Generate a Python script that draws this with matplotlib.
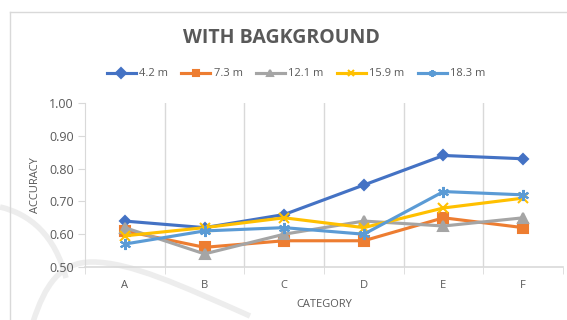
import numpy as np
import matplotlib.pyplot as plt
from matplotlib.path import Path
from matplotlib.patches import PathPatch

# data
categories = ['A', 'B', 'C', 'D', 'E', 'F']
series_names = ['4.2 m', '7.3 m', '12.1 m', '15.9 m', '18.3 m']
acc_42 = [0.64, 0.62, 0.66, 0.75, 0.84, 0.83]
acc_73 = [0.61, 0.56, 0.58, 0.58, 0.65, 0.62]
acc_121 = [0.62, 0.54, 0.60, 0.64, 0.625, 0.65]
acc_159 = [0.595, 0.62, 0.65, 0.62, 0.68, 0.71]
acc_183 = [0.57, 0.61, 0.62, 0.60, 0.73, 0.72]
y_ticks = [0.50, 0.60, 0.70, 0.80, 0.90, 1.00]

colors = ['#4472C4', '#ED7D31', '#A5A5A5', '#FFC000', '#5B9BD5']
markers = ['D', 's', '^', 'x', (6, 2, 0)]
msizes = [5, 6.5, 6.5, 7, 8]
txt = '#595959'
gridc = '#D9D9D9'

plt.rcParams['font.family'] = ['Open Sans', 'DejaVu Sans']

fig = plt.figure(figsize=(5.67, 3.2), dpi=100)
fig.patch.set_facecolor('white')

# faint background watermark arcs
def fig_curve(pts):
    W, H = 567.0, 320.0
    verts = [(x / W, 1 - y / H) for x, y in pts]
    codes = [Path.MOVETO] + [Path.CURVE4] * (len(verts) - 1)
    return PathPatch(Path(verts, codes), fill=False, lw=4, ec='#EDEDED',
                     transform=fig.transFigure, zorder=-1)

fig.patches.append(fig_curve([(0, 207), (30, 214), (55, 235), (66, 278)]))
fig.patches.append(fig_curve([(33, 322), (45, 285), (60, 262), (92, 262),
                              (130, 262), (180, 285), (250, 316)]))

# chart border
fig.add_artist(plt.Line2D([10 / 567, 10 / 567], [0, 1 - 12 / 320], color=gridc, lw=1,
                          transform=fig.transFigure))
fig.add_artist(plt.Line2D([10 / 567, 1], [1 - 12 / 320, 1 - 12 / 320], color=gridc, lw=1,
                          transform=fig.transFigure))

ax = fig.add_axes([85 / 567, 1 - 267 / 320, (563 - 85) / 567, (267 - 103) / 320])
ax.set_facecolor('none')

x = np.arange(len(categories))
all_series = [acc_42, acc_73, acc_121, acc_159, acc_183]
for vals, name, c, m, ms in zip(all_series, series_names, colors, markers, msizes):
    ax.plot(x, vals, color=c, lw=2.25, marker=m, markersize=ms, markerfacecolor=c,
            markeredgecolor=c, markeredgewidth=1.5, label=name, zorder=3)

ax.set_xlim(-0.5, len(categories) - 0.5)
ax.set_ylim(0.5, 1.0)
ax.set_yticks(y_ticks)
ax.set_yticklabels(['%.2f' % v for v in y_ticks])
ax.set_xticks(x)
ax.set_xticklabels(categories)
ax.set_xticks(np.arange(-0.5, len(categories)), minor=True)

for b in np.arange(0.5, len(categories) - 0.5):
    ax.axvline(b, color=gridc, lw=1, zorder=1)

for s in ['top', 'right']:
    ax.spines[s].set_visible(False)
ax.spines['left'].set_color(gridc)
ax.spines['bottom'].set_color(gridc)
ax.spines['bottom'].set_linewidth(1.2)

ax.tick_params(axis='y', colors=txt, labelsize=9, length=5, color=gridc, pad=3)
ax.tick_params(axis='x', which='major', colors=txt, labelsize=8, length=0, pad=9)
ax.tick_params(axis='x', which='minor', length=5, color=gridc)

ax.set_xlabel('CATEGORY', color=txt, fontsize=8, labelpad=6)
ax.set_ylabel('ACCURACY', color=txt, fontsize=8, labelpad=6)

fig.text(281 / 567, 1 - 38 / 320, 'WITH BAGKGROUND', ha='center', va='center',
         fontsize=14, fontweight='bold', color=txt)

leg = fig.legend(loc='center', bbox_to_anchor=(296 / 567, 1 - 74 / 320), ncol=5,
                 frameon=False, fontsize=8, handlelength=2.6, handletextpad=0.3,
                 columnspacing=1.2, labelcolor=txt)
for h in leg.legend_handles:
    h.set_markersize(5)

fig.savefig('out.png', dpi=100)
